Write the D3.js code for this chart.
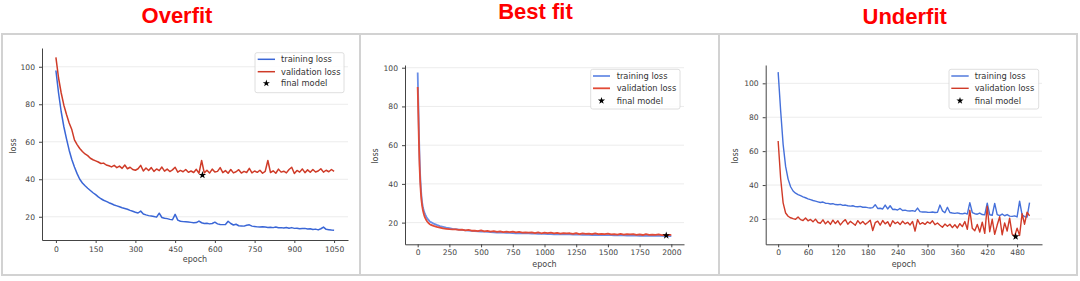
<!DOCTYPE html>
<html>
<head>
<meta charset="utf-8">
<script src="https://cdn.jsdelivr.net/npm/d3@7"></script>
<style>
  html, body { margin: 0; padding: 0; background: #fff; }
  svg { display: block; }
</style>
</head>
<body>
<div id="graph-container"></div>
<script>
// Titles above the three panels
var titles = ["Overfit", "Best fit", "Underfit"];
var legendLabels = ["training loss", "validation loss", "final model"];

// Overfit panel: epochs 0..1050 every 10
var epochs1 = d3.range(0, 1051, 10);
var train1 = [
  98, 86, 76, 68, 61.5, 55.5, 50.5, 46.5, 43, 40,
  38, 36.5, 35.2, 34, 32.8, 31.8, 30.6, 29.6, 28.8, 28.2,
  27.5, 26.9, 26.3, 25.8, 25.3, 24.8, 24.4, 24.0, 23.4, 22.9,
  22.4, 22.0, 23.0, 21.5, 21.0, 20.6, 20.4, 20.1, 19.8, 21.9,
  19.6, 19.2, 19.0, 18.6, 18.4, 21.3, 18.2, 17.6, 17.4, 17.3,
  17.2, 17.0, 16.8, 16.9, 17.7, 16.8, 16.4, 16.5, 16.2, 16.4,
  17.1, 16.2, 15.9, 15.8, 15.9, 17.6, 16.4, 15.6, 16.0, 15.2,
  15.1, 15.0, 15.5, 15.7, 15.0, 14.8, 14.6, 14.5, 14.7, 14.5,
  14.3, 14.4, 14.2, 14.5, 14.1, 14.2, 14.0, 14.3, 13.9, 14.2,
  13.8, 13.9, 13.6, 13.7, 13.8, 13.5, 13.6, 13.2, 13.4, 13.0,
  13.6, 14.5, 13.3, 13.1, 12.9, 12.8
];
var valid1 = [
  105, 94, 86, 79.5, 74.5, 70, 66.5, 61, 58.5, 56.4,
  54.8, 53.5, 52.6, 51.2, 50.4, 49.8, 49.2, 48.4, 48.6, 47.6,
  47.2, 46.6, 47.4, 46.2, 47.0, 45.8, 47.6, 45.6, 46.4, 45.2,
  44.8, 45.6, 47.4, 44.4, 46.0, 44.7, 46.2, 44.2, 45.5, 44.6,
  46.5, 44.3, 45.4, 44.1, 45.0, 46.4, 43.8, 44.7, 44.0, 45.2,
  43.7, 44.4, 43.6, 45.3, 43.2, 50.0, 43.4, 44.8, 43.3, 45.4,
  43.9, 44.2, 46.2, 43.5, 44.6, 43.2, 45.2, 43.4, 44.0, 45.1,
  43.3, 44.2, 43.6, 45.8, 43.4, 44.4, 43.7, 44.8, 43.2, 44.2,
  50.0, 43.6, 44.5, 43.2, 45.4, 43.8, 44.3, 43.4, 45.2, 46.4,
  43.1, 44.7, 43.8, 45.5, 43.5, 45.0, 43.7, 45.2, 43.9, 44.4,
  45.6, 43.8, 44.8, 44.0, 45.2, 44.2
];

// Best fit panel: epochs 0..95 every 5, then 100..2000 every 25
var epochs2 = d3.range(0, 100, 5).concat(d3.range(100, 2001, 25));
var train2 = [
  97.5, 82, 66, 53, 44, 38, 33.5, 30.5, 28.5, 27,
  25.8, 24.9, 24.1, 23.4, 22.8, 22.3, 21.8, 21.4, 21.0, 20.6,
  20.4, 19.5, 18.8, 18.2, 17.8, 17.4, 17.1, 16.8, 16.6, 16.4,
  16.2, 16.0, 15.9, 15.7, 15.6, 15.5, 15.4, 15.3, 15.2, 15.1,
  15.0, 14.9, 14.9, 14.8, 14.7, 14.7, 14.6, 14.5, 14.5, 14.4,
  14.4, 14.4, 14.3, 14.3, 14.2, 14.2, 14.2, 14.1, 14.1, 14.0,
  14.0, 14.0, 13.9, 13.9, 13.9, 13.8, 13.8, 13.8, 13.7, 13.7,
  13.7, 13.6, 13.6, 13.6, 13.6, 13.5, 13.5, 13.5, 13.4, 13.4,
  13.4, 13.4, 13.3, 13.3, 13.3, 13.3, 13.2, 13.2, 13.2, 13.2,
  13.1, 13.1, 13.1, 13.1, 13.0, 13.0, 13.0
];
var valid2 = [
  90, 76, 61, 49, 41, 35.5, 31.5, 28.8, 26.8, 25.3,
  24.1, 23.1, 22.3, 21.7, 21.1, 20.6, 20.2, 19.8, 19.5, 19.2,
  19.0, 18.3, 17.8, 17.4, 17.0, 16.8, 16.6, 16.5, 16.5, 16.2,
  16.4, 16.0, 16.2, 15.8, 15.9, 15.6, 16.0, 15.5, 15.7, 15.4,
  15.6, 15.2, 15.5, 15.1, 15.3, 15.1, 15.3, 14.9, 15.2, 14.8,
  15.0, 14.8, 14.9, 14.6, 15.0, 14.5, 14.8, 14.6, 14.8, 14.4,
  14.7, 14.3, 14.6, 14.4, 14.5, 14.2, 14.6, 14.1, 14.4, 14.2,
  14.3, 14.0, 14.4, 14.0, 14.2, 14.0, 14.3, 13.9, 14.1, 13.8,
  14.2, 13.8, 14.0, 13.9, 14.1, 13.7, 13.9, 13.6, 14.0, 13.7,
  13.8, 13.7, 13.9, 13.5, 13.7, 13.6, 13.7
];

// Underfit panel: epochs 0..505 every 5
var epochs3 = d3.range(0, 506, 5);
var train3 = [
  106.6, 84, 64, 51, 43.5, 39, 36.5, 35.2, 34.4, 33.7,
  33.0, 32.5, 31.9, 31.4, 30.9, 30.5, 30.1, 29.7, 30.0, 29.3,
  29.2, 28.8, 29.0, 28.5, 28.4, 28.6, 28.0, 28.2, 27.8, 27.6,
  27.8, 27.3, 27.2, 27.4, 26.9, 27.0, 26.7, 26.5, 26.7, 28.4,
  26.2, 26.3, 25.9, 28.2, 25.9, 27.8, 25.6, 25.7, 25.3, 26.2,
  25.0, 25.2, 24.8, 24.7, 24.9, 24.5, 26.4, 24.3, 24.1, 24.2,
  24.0, 23.9, 24.1, 23.8, 23.9, 28.2, 24.8, 23.7, 26.9, 23.8,
  23.5, 23.3, 23.6, 23.2, 23.0, 23.4, 22.9, 29.6, 23.8, 23.1,
  22.8, 23.5, 22.6, 22.4, 29.3, 22.5, 22.2, 29.2, 22.6, 22.0,
  22.9, 21.9, 22.6, 21.7, 21.5, 21.8, 21.2, 30.5, 22.4, 21.4,
  21.1, 29.6
];
var valid3 = [
  66, 44, 29.5, 23.5, 21.6, 20.7, 20.2, 19.8, 21.2, 19.6,
  19.1, 20.6, 18.9, 19.7, 18.3, 19.9, 17.9, 17.5, 19.5, 17.1,
  18.7, 16.8, 19.3, 17.3, 18.9, 16.5, 18.3, 19.6, 16.9, 18.6,
  17.5, 16.3, 19.0, 17.2, 18.5, 16.8, 17.9, 19.3, 13.2, 17.8,
  18.7, 16.4, 19.1, 17.1, 18.4, 15.6, 18.9, 17.3, 18.2, 16.7,
  18.7, 17.1, 18.0, 16.5, 18.5, 12.8, 19.6, 16.9, 17.8, 16.8,
  18.3, 17.3, 18.9, 16.6, 17.6, 16.3, 15.1, 17.0, 15.7, 16.9,
  14.9, 16.6, 14.7, 17.2, 15.5, 18.5, 13.9, 25.2, 14.5, 13.1,
  16.8, 12.3, 18.1, 11.5, 27.5, 12.5, 19.8, 10.9, 16.4, 21.3,
  10.7, 17.7, 12.9, 20.5, 11.1, 9.8, 14.6, 10.3, 23.1, 16.9,
  24.0, 21.8
];

// Final model markers (epoch, loss) per panel
var finalEpoch = [553, 1960, 477];
var finalLoss = [42.2, 13.3, 9.6];

// Tick values per panel
var xTicks = [d3.range(0, 1051, 150), d3.range(0, 2001, 250), d3.range(0, 481, 60)];
var yTicks = [[20, 40, 60, 80, 100], [20, 40, 60, 80, 100], [20, 40, 60, 80, 100]];

// Panel layout (pixel geometry of each pasted plot)
var panels = [
  {
    epochs: epochs1, train: train1, valid: valid1,
    x0: 42, x1: 348, y0: 48, y1: 240,
    xDomain: [-52.5, 1102.5], yDomain: [7.6, 110],
    blue: "#3a66d6", red: "#cf3b28", lw: 1.5,
    legend: { x: 255, y: 52.7, w: 89, h: 40, rows: [59.3, 71.7, 83.3], hx: [257.7, 275], tx: 281 },
    ylab: [16, 146], xlabY: 262, xPad: 4,
    title: [177, 22.7]
  },
  {
    epochs: epochs2, train: train2, valid: valid2,
    x0: 405, x1: 684, y0: 65, y1: 244.3,
    xDomain: [-100, 2100], yDomain: [8.8, 101.4],
    blue: "#6a8ee6", red: "#e24a36", lw: 1.8,
    legend: { x: 590.7, y: 69.3, w: 89.3, h: 39.7, rows: [76, 88.3, 100.7], hx: [593, 610], tx: 616.7 },
    ylab: [378, 156], xlabY: 266.5, xPad: 2,
    title: [535.5, 19.3]
  },
  {
    epochs: epochs3, train: train3, valid: valid3,
    x0: 765.7, x1: 1042, y0: 65, y1: 244.3,
    xDomain: [-25, 530], yDomain: [5.06, 110.8],
    blue: "#4570da", red: "#d03a28", lw: 1.4,
    legend: { x: 949, y: 69.3, w: 89.7, h: 39.7, rows: [76, 88.3, 100.7], hx: [951.3, 968.7], tx: 974.7 },
    ylab: [737.5, 156], xlabY: 266.5, xPad: 2,
    title: [904.7, 24]
  }
];

var svgWidth = 1080;
var svgHeight = 281;

// Create the SVG element
var svg = d3.select("#graph-container")
  .append("svg")
  .attr("width", svgWidth)
  .attr("height", svgHeight);

svg.append("rect")
  .attr("width", svgWidth)
  .attr("height", svgHeight)
  .attr("fill", "#fff");

// Grey frame round the three pasted plots
svg.append("rect")
  .attr("x", 2)
  .attr("y", 34)
  .attr("width", 1075)
  .attr("height", 241)
  .attr("fill", "none")
  .attr("stroke", "#d2d2d2")
  .attr("stroke-width", 2);

[360, 719].forEach(function (x) {
  svg.append("line")
    .attr("x1", x).attr("x2", x)
    .attr("y1", 34).attr("y2", 275)
    .attr("stroke", "#d2d2d2")
    .attr("stroke-width", 2);
});

var star = d3.symbol().type(d3.symbolStar);

panels.forEach(function (p, i) {
  // Title
  svg.append("text")
    .attr("x", p.title[0])
    .attr("y", p.title[1])
    .attr("text-anchor", "middle")
    .attr("font-family", "'Liberation Sans', Arial, sans-serif")
    .attr("font-weight", "bold")
    .attr("font-size", "22px")
    .attr("fill", "#ff0000")
    .text(titles[i]);

  var xScale = d3.scaleLinear().domain(p.xDomain).range([p.x0, p.x1]);
  var yScale = d3.scaleLinear().domain(p.yDomain).range([p.y1, p.y0]);

  var g = svg.append("g");

  // Horizontal gridlines
  g.selectAll(".grid")
    .data(yTicks[i])
    .enter()
    .append("line")
    .attr("x1", p.x0)
    .attr("x2", p.x1)
    .attr("y1", function (d) { return yScale(d); })
    .attr("y2", function (d) { return yScale(d); })
    .attr("stroke", "#ececec")
    .attr("stroke-width", 1);

  // Lines
  var line = d3.line()
    .x(function (d, k) { return xScale(p.epochs[k]); })
    .y(function (d) { return yScale(d); });

  g.append("path")
    .datum(p.train)
    .attr("d", line)
    .attr("fill", "none")
    .attr("stroke", p.blue)
    .attr("stroke-width", p.lw)
    .attr("stroke-linejoin", "round");

  g.append("path")
    .datum(p.valid)
    .attr("d", line)
    .attr("fill", "none")
    .attr("stroke", p.red)
    .attr("stroke-width", p.lw)
    .attr("stroke-linejoin", "round");

  // Final model star
  g.append("path")
    .attr("d", star.size(18)())
    .attr("transform", "translate(" + xScale(finalEpoch[i]) + "," + yScale(finalLoss[i]) + ")")
    .attr("fill", "#000");

  // Axes
  var xAxis = d3.axisBottom(xScale)
    .tickValues(xTicks[i])
    .tickSize(3)
    .tickSizeOuter(0)
    .tickPadding(p.xPad)
    .tickFormat(d3.format("d"));
  var yAxis = d3.axisLeft(yScale)
    .tickValues(yTicks[i])
    .tickSize(3)
    .tickSizeOuter(0)
    .tickPadding(4)
    .tickFormat(d3.format("d"));

  var gx = g.append("g")
    .attr("transform", "translate(0," + p.y1 + ")")
    .call(xAxis);
  var gy = g.append("g")
    .attr("transform", "translate(" + p.x0 + ",0)")
    .call(yAxis);

  [gx, gy].forEach(function (ax) {
    ax.select(".domain").attr("stroke", "#444").attr("stroke-width", 1);
    ax.selectAll(".tick line").attr("stroke", "#444");
    ax.selectAll(".tick text")
      .attr("fill", "#444")
      .attr("font-family", "'DejaVu Sans', sans-serif")
      .attr("font-size", "7.6px");
  });

  // Axis labels
  g.append("text")
    .attr("x", (p.x0 + p.x1) / 2)
    .attr("y", p.xlabY)
    .attr("text-anchor", "middle")
    .attr("font-family", "'DejaVu Sans', sans-serif")
    .attr("font-size", "8px")
    .attr("fill", "#444")
    .text("epoch");

  g.append("text")
    .attr("transform", "translate(" + p.ylab[0] + "," + p.ylab[1] + ") rotate(-90)")
    .attr("text-anchor", "middle")
    .attr("font-family", "'DejaVu Sans', sans-serif")
    .attr("font-size", "8px")
    .attr("fill", "#444")
    .text("loss");

  // Legend
  var L = p.legend;
  g.append("rect")
    .attr("x", L.x)
    .attr("y", L.y)
    .attr("width", L.w)
    .attr("height", L.h)
    .attr("rx", 2)
    .attr("fill", "#fff")
    .attr("fill-opacity", 0.85)
    .attr("stroke", "#d6d6d6")
    .attr("stroke-width", 0.8);

  [p.blue, p.red].forEach(function (c, k) {
    g.append("line")
      .attr("x1", L.hx[0]).attr("x2", L.hx[1])
      .attr("y1", L.rows[k]).attr("y2", L.rows[k])
      .attr("stroke", c)
      .attr("stroke-width", p.lw);
  });

  g.append("path")
    .attr("d", star.size(16)())
    .attr("transform", "translate(" + (L.hx[0] + L.hx[1]) / 2 + "," + L.rows[2] + ")")
    .attr("fill", "#000");

  g.selectAll(".leg")
    .data(legendLabels)
    .enter()
    .append("text")
    .attr("x", L.tx)
    .attr("y", function (d, k) { return L.rows[k]; })
    .attr("dy", "0.35em")
    .attr("font-family", "'DejaVu Sans', sans-serif")
    .attr("font-size", "8.3px")
    .attr("fill", "#333")
    .text(function (d) { return d; });
});
</script>
</body>
</html>
